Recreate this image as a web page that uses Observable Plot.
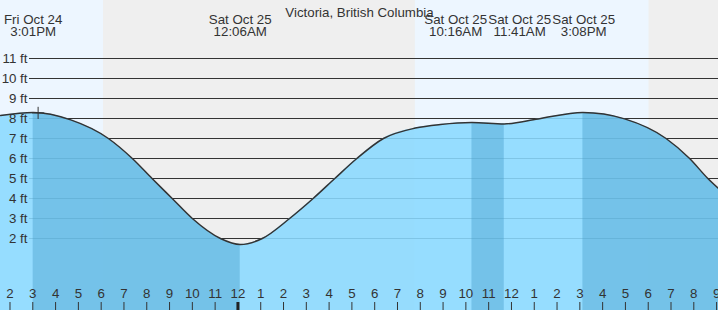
<!DOCTYPE html>
<html><head><meta charset="utf-8">
<script src="https://cdn.jsdelivr.net/npm/d3@7"></script>
<script src="https://cdn.jsdelivr.net/npm/@observablehq/plot@0.6"></script>
<style>html,body{margin:0;padding:0;background:#efefef;overflow:hidden}#chart svg{display:block}</style>
</head><body><div id="chart"></div>
<script>
const title = "Victoria, British Columbia";
// tide curve (UTC used as plain local clock time)
const tideTimes = ["2025-10-24 13:35","2025-10-24 15:01","2025-10-24 16:40","2025-10-24 18:19","2025-10-24 19:22","2025-10-24 20:14","2025-10-24 21:07","2025-10-24 22:00","2025-10-24 23:14","2025-10-25 00:06","2025-10-25 01:04","2025-10-25 02:16","2025-10-25 03:18","2025-10-25 04:15","2025-10-25 05:13","2025-10-25 06:23","2025-10-25 07:47","2025-10-25 08:53","2025-10-25 10:16","2025-10-25 11:41","2025-10-25 13:10","2025-10-25 15:08","2025-10-25 16:58","2025-10-25 18:47","2025-10-25 19:49","2025-10-25 20:37","2025-10-25 21:05"];
const tideHeights = [8.15,8.3,7.93,7.0,6.0,5.0,4.0,3.0,2.0,1.7,2.0,3.0,4.0,5.0,6.0,7.0,7.52,7.7,7.8,7.73,7.98,8.3,7.98,7.0,6.0,5.0,4.5];
const eventTimes = ["2025-10-24 15:01","2025-10-25 00:06","2025-10-25 10:16","2025-10-25 11:41","2025-10-25 15:08"];
const eventHeights = [8.3,1.7,7.8,7.73,8.3];
const eventTypes = ["high","low","high","low","high"];
const sunriseTimes = ["2025-10-24 07:45","2025-10-25 07:47"];
const sunsetTimes = ["2025-10-24 18:06","2025-10-25 18:02"];
const nowTime = "2025-10-24 15:14";
const nowHeight = 8.28;
const feetTicks = [2,3,4,5,6,7,8,9,10,11];
const viewStart = "2025-10-24 13:35";
const viewEnd = "2025-10-25 21:05";
const yDomain = [-1.6, 13.9];

const parse = d3.utcParse("%Y-%m-%d %H:%M");
const W = 718, H = 310;
const xDomain = [parse(viewStart), parse(viewEnd)];
const tide = tideTimes.map((t,i)=>({time: parse(t), height: tideHeights[i]}));
const events = eventTimes.map((t,i)=>({time: parse(t), height: eventHeights[i], type: eventTypes[i]}));
const days = sunriseTimes.map((t,i)=>({x1: parse(t), x2: parse(sunsetTimes[i])}));
const falling = [];
events.forEach((e,i)=>{ if (e.type==="high") { const n = events[i+1]; falling.push({x1: e.time, x2: n ? n.time : xDomain[1]}); } });
const hours = d3.utcHour.range(xDomain[0], xDomain[1]);
const midnights = hours.filter(d => d.getUTCHours() === 0);

// label collision avoidance
const pxPerMs = W / (xDomain[1] - xDomain[0]);
const minGap = 64 / pxPerMs;
let clusters = events.map(e => ({items: [e]}));
function place(c){ const m = d3.mean(c.items, e => +e.time); const n = c.items.length; c.items.forEach((e,i)=>{ e.labelX = m + (i-(n-1)/2)*minGap; }); }
clusters.forEach(place);
let merged = true;
while (merged) { merged = false;
  for (let i=0;i<clusters.length-1;i++){ const a=clusters[i], b=clusters[i+1];
    if (b.items[0].labelX - a.items[a.items.length-1].labelX < minGap - 1e-6) { a.items = a.items.concat(b.items); clusters.splice(i+1,1); place(a); merged = true; break; } } }
events.forEach(e => e.labelTime = new Date(e.labelX));

const fmtHour = d3.utcFormat("%-I");
const fmtDate = d3.utcFormat("%a %b %d");
const fmtTime = d3.utcFormat("%-I:%M%p");
const txt = "#333";

const svg = Plot.plot({
  width: W, height: H, margin: 0,
  x: {type: "utc", domain: xDomain, range: [0, W], axis: null},
  y: {domain: yDomain, range: [H, 0], axis: null},
  style: {background: "#efefef", fontFamily: "'Liberation Sans', Arial, sans-serif", color: txt},
  marks: [
    Plot.rect(days, {x1: "x1", x2: "x2", fill: "#edf6ff", clip: true}),
    Plot.ruleY(feetTicks, {y: d => d, stroke: "#333", strokeWidth: 1, insetLeft: 29}),
    Plot.areaY(tide, {x: "time", y1: yDomain[0], y2: "height", curve: "monotone-x", fill: "#8ad9ff", fillOpacity: 0.88}),
    Plot.rect(falling, {x1: "x1", x2: "x2", fill: "#449eca", fillOpacity: 0.42}),
    Plot.line(tide, {x: "time", y: "height", curve: "monotone-x", stroke: "#333", strokeWidth: 1.5}),
    Plot.dot([{time: parse(nowTime), height: nowHeight}], {x: "time", y: "height", symbol: "plus", r: 4, stroke: "#333", strokeWidth: 1}),
    Plot.text(feetTicks, {y: d => d, frameAnchor: "left", dx: 27, textAnchor: "end", text: d => `${d} ft`, fontSize: 13.3, fill: txt}),
    Plot.ruleX(hours, {x: d => d, insetTop: 302, stroke: "#333", strokeWidth: 1}),
    Plot.ruleX(midnights, {x: d => d, insetTop: 302, stroke: "#222", strokeWidth: 3}),
    Plot.text(hours, {x: d => d, frameAnchor: "bottom", dy: -13, text: d => fmtHour(d), fontSize: 13.3, fill: txt}),
    Plot.text([title], {frameAnchor: "top", dy: 7, text: d => d, fontSize: 13.3, fill: txt}),
    Plot.text(events, {x: "labelTime", frameAnchor: "top", dy: 25.5, lineAnchor: "middle", lineHeight: 0.92, text: d => `${fmtDate(d.time)}\n${fmtTime(d.time)}`, fontSize: 13.3, fill: txt})
  ]
});

// clip the falling-tide bands to the area under the curve
const ns = "http://www.w3.org/2000/svg";
const areaPath = svg.querySelector('g[aria-label="area"] path');
const rectGroups = svg.querySelectorAll('g[aria-label="rect"]');
if (areaPath && rectGroups.length > 1) {
  const defs = document.createElementNS(ns, "defs");
  const cp = document.createElementNS(ns, "clipPath");
  cp.setAttribute("id", "tide-clip");
  const p = document.createElementNS(ns, "path");
  p.setAttribute("d", areaPath.getAttribute("d"));
  const tr = areaPath.parentNode.getAttribute("transform");
  if (tr) p.setAttribute("transform", tr);
  cp.appendChild(p); defs.appendChild(cp);
  svg.insertBefore(defs, svg.firstChild);
  rectGroups[1].setAttribute("clip-path", "url(#tide-clip)");
}
document.getElementById("chart").appendChild(svg);
</script>
</body></html>
